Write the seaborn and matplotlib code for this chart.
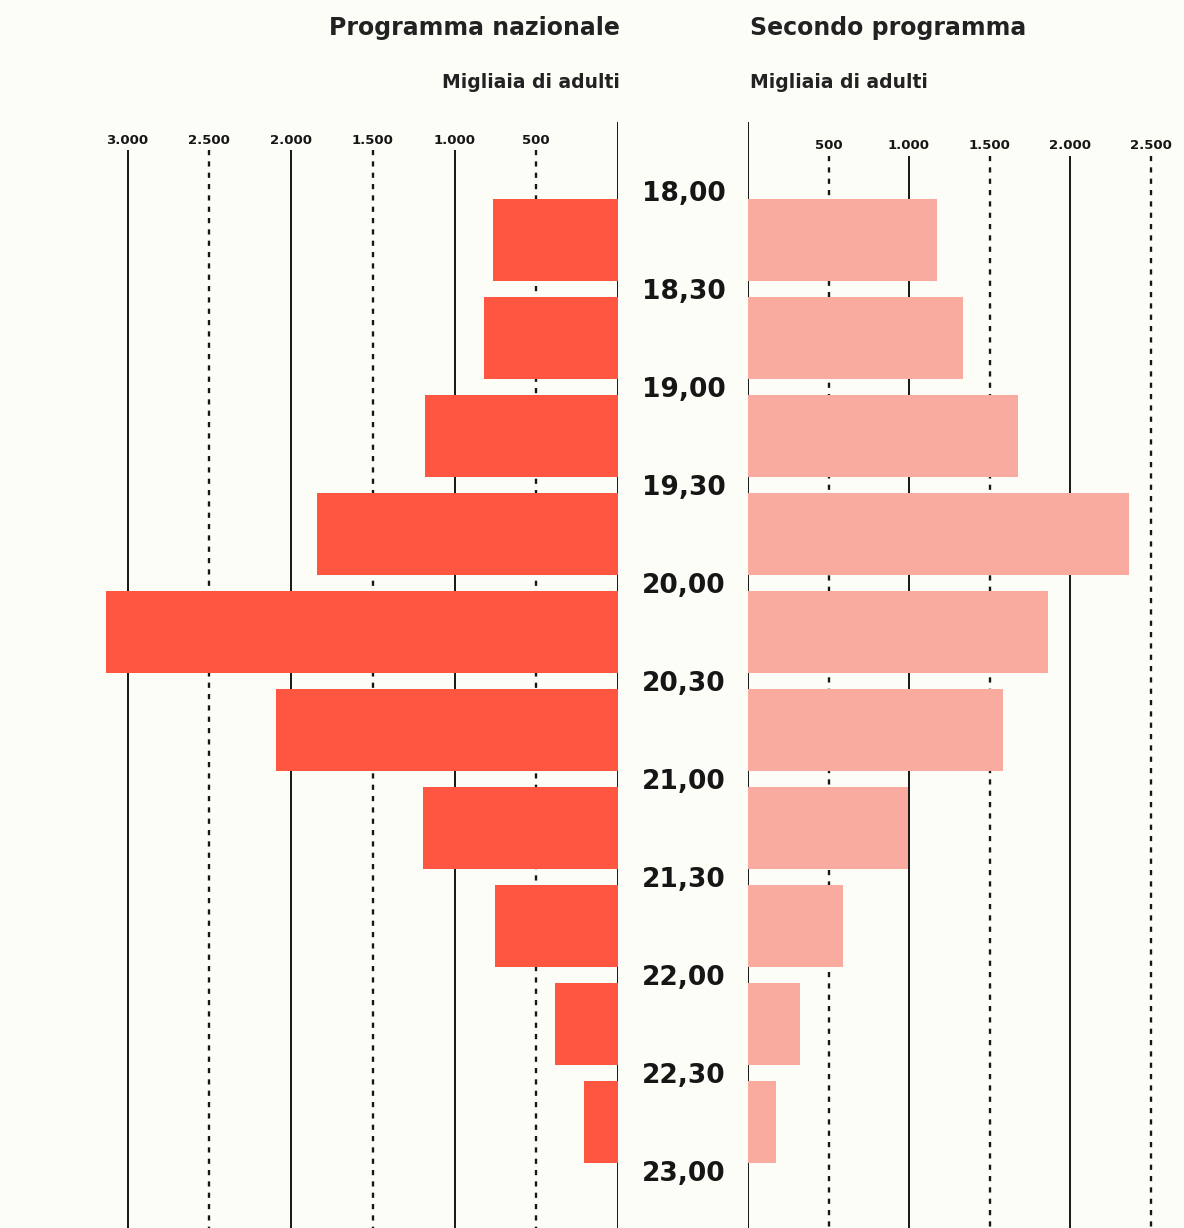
import numpy as np
import pandas as pd
import seaborn as sns
import matplotlib.pyplot as plt
from matplotlib.transforms import blended_transform_factory

sns.set_theme(style="white")
plt.rcParams['font.family'] = ['DejaVu Sans']

# Half-hour listening slots and audience (thousands of adults)
slots = ["18,00-18,30", "18,30-19,00", "19,00-19,30", "19,30-20,00", "20,00-20,30",
         "20,30-21,00", "21,00-21,30", "21,30-22,00", "22,00-22,30", "22,30-23,00"]
times = ["18,00", "18,30", "19,00", "19,30", "20,00", "20,30",
         "21,00", "21,30", "22,00", "22,30", "23,00"]
nazionale = [765, 818, 1180, 1840, 3130, 2090, 1190, 750, 388, 208]
secondo = [1172, 1336, 1680, 2365, 1866, 1585, 995, 587, 326, 174]

left_ticks = [500, 1000, 1500, 2000, 2500, 3000]
right_ticks = [500, 1000, 1500, 2000, 2500]

df = pd.DataFrame({"slot": slots, "nazionale": nazionale, "secondo": secondo})

BG = "#FDFDF8"
RED = "#FF5641"
PINK = "#F9ABA0"
INK = "#161616"

W, H = 1184, 1228
fig = plt.figure(figsize=(W / 100, H / 100), dpi=100, facecolor=BG)

top_px = 122
ax_h = (H - top_px) / H
axL = fig.add_axes([100 / W, 0, 518 / W, ax_h])
axR = fig.add_axes([748 / W, 0, 422 / W, ax_h])

sns.barplot(data=df, x="nazionale", y="slot", orient="h", ax=axL,
            color=RED, width=0.84, linewidth=0, saturation=1, zorder=3)
sns.barplot(data=df, x="secondo", y="slot", orient="h", ax=axR,
            color=PINK, width=0.84, linewidth=0, saturation=1, zorder=3)

y_top = (top_px - 240) / 98
y_bot = (H - 240) / 98
axL.set_xlim(518 / 163.5 * 1000, 0)
axR.set_xlim(0, 422 / 161 * 1000)

for ax, ticks, y_grid, y_lab in ((axL, left_ticks, -0.92, -1.02),
                                 (axR, right_ticks, -0.86, -0.96)):
    ax.set_ylim(y_bot, y_top)
    ax.set_facecolor("none")
    for s in ax.spines.values():
        s.set_visible(False)
    ax.set_xticks([])
    ax.set_yticks([])
    ax.set_xlabel("")
    ax.set_ylabel("")
    # zero baseline
    ax.vlines(0, y_top, y_bot, color=INK, lw=1.4, zorder=1)
    for v in ticks:
        if v % 1000 == 0:
            ax.vlines(v, y_grid, y_bot, color=INK, lw=1.4, zorder=1)
        else:
            ax.vlines(v, y_grid, y_bot, color=INK, lw=1.7,
                      linestyles=(0, (2.2, 2.6)), zorder=1)
        ax.text(v, y_lab, f"{v:,}".replace(",", "."), ha="center", va="center",
                fontsize=9.5, fontweight="bold", color=INK)

# Time labels between the two panels
trans = blended_transform_factory(axL.transAxes, axL.transData)
xc = (684 - 100) / 518
for k, t in enumerate(times):
    axL.text(xc, k - 0.5 + 0.1, t, transform=trans, ha="center", va="baseline",
             fontsize=19, fontweight="bold", color=INK, clip_on=False)

# Panel headings
fig.text(620 / W, 1 - 28 / H, "Programma nazionale", ha="right", va="center",
         fontsize=17, fontweight="bold", color="#222222")
fig.text(750 / W, 1 - 28 / H, "Secondo programma", ha="left", va="center",
         fontsize=17, fontweight="bold", color="#222222")
fig.text(620 / W, 1 - 82 / H, "Migliaia di adulti", ha="right", va="center",
         fontsize=13.5, fontweight="bold", color="#222222")
fig.text(750 / W, 1 - 82 / H, "Migliaia di adulti", ha="left", va="center",
         fontsize=13.5, fontweight="bold", color="#222222")

fig.savefig("out.png", dpi=100, facecolor=BG)
